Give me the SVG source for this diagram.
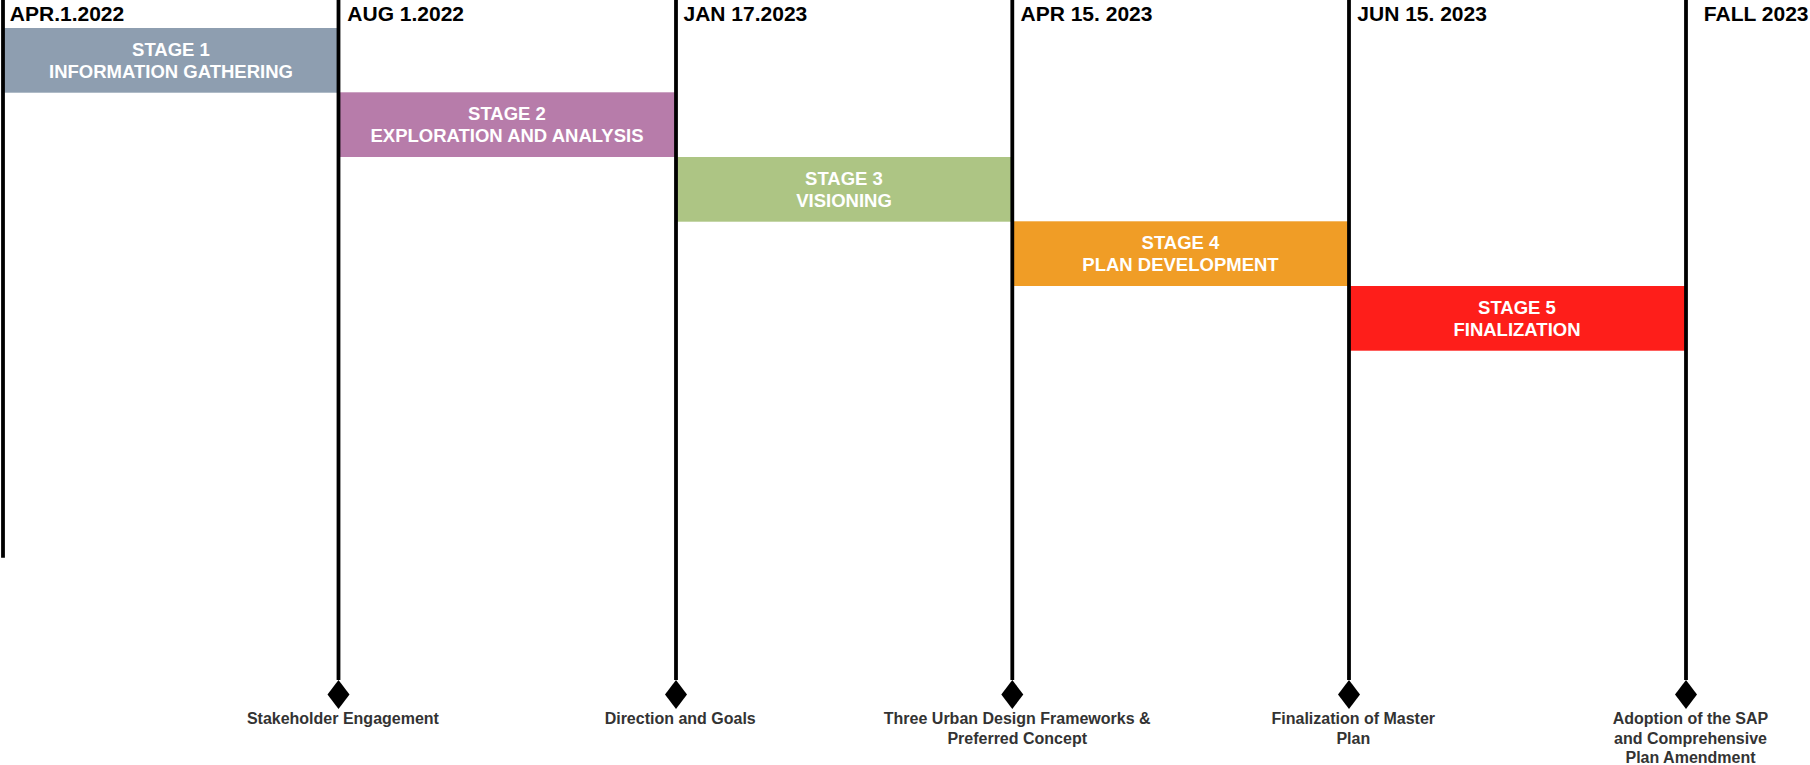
<svg xmlns="http://www.w3.org/2000/svg" width="1810" height="765" viewBox="0 0 1810 765">
<style>
.hdr{font-family:"Liberation Sans",Arial,sans-serif;font-weight:bold;font-size:21px;fill:#000}
.stg{font-family:"Liberation Sans",Arial,sans-serif;font-weight:bold;font-size:18.5px;fill:#fff;text-anchor:middle}
.lbl{font-family:"Liberation Sans",Arial,sans-serif;font-weight:bold;font-size:16px;fill:#333;text-anchor:middle}
.vl{stroke:#000;stroke-width:3.8;fill:none}
</style>
<defs>
<marker id="dia" markerUnits="userSpaceOnUse" markerWidth="24" markerHeight="32" viewBox="-12 -16 24 32" refX="0" refY="-14.5" orient="0">
<path d="M0,-14.5 L11,0 L0,14.5 L-11,0 Z" fill="#000"/>
</marker>
</defs>
<rect width="1810" height="765" fill="#fff"/>

<g id="stage1">
<rect x="3" y="28" width="335.5" height="64.7" fill="#8e9eb0"/>
<text class="stg" x="171" y="56">STAGE 1</text>
<text class="stg" x="171" y="77.7">INFORMATION GATHERING</text>
</g>
<g id="stage2">
<rect x="338.5" y="92.3" width="337.5" height="64.7" fill="#b77caa"/>
<text class="stg" x="507" y="120.3">STAGE 2</text>
<text class="stg" x="507" y="142">EXPLORATION AND ANALYSIS</text>
</g>
<g id="stage3">
<rect x="676" y="157" width="336.3" height="64.7" fill="#adc584"/>
<text class="stg" x="844" y="185">STAGE 3</text>
<text class="stg" x="844" y="206.7">VISIONING</text>
</g>
<g id="stage4">
<rect x="1012.3" y="221.3" width="336.7" height="64.7" fill="#f09d26"/>
<text class="stg" x="1180.5" y="249.3">STAGE 4</text>
<text class="stg" x="1180.5" y="271">PLAN DEVELOPMENT</text>
</g>
<g id="stage5">
<rect x="1349" y="286" width="337" height="64.7" fill="#fe1e1a"/>
<text class="stg" x="1517" y="314.3">STAGE 5</text>
<text class="stg" x="1517" y="336">FINALIZATION</text>
</g>

<g id="connectors">
<line class="vl" x1="3" y1="0" x2="3" y2="557.7"/>
<line class="vl" x1="338.5" y1="0" x2="338.5" y2="680" marker-end="url(#dia)"/>
<line class="vl" x1="676" y1="0" x2="676" y2="680" marker-end="url(#dia)"/>
<line class="vl" x1="1012.3" y1="0" x2="1012.3" y2="680" marker-end="url(#dia)"/>
<line class="vl" x1="1349" y1="0" x2="1349" y2="680" marker-end="url(#dia)"/>
<line class="vl" x1="1686" y1="0" x2="1686" y2="680" marker-end="url(#dia)"/>
</g>

<g id="dates">
<text class="hdr" x="9.8" y="21">APR.1.2022</text>
<text class="hdr" x="347.3" y="21">AUG 1.2022</text>
<text class="hdr" x="683.5" y="21">JAN 17.2023</text>
<text class="hdr" x="1020.5" y="21">APR 15. 2023</text>
<text class="hdr" x="1357.3" y="21">JUN 15. 2023</text>
<text class="hdr" x="1808.5" y="21" text-anchor="end">FALL 2023</text>
</g>

<g id="milestone1">
<text class="lbl" x="342.9" y="724">Stakeholder Engagement</text>
</g>
<g id="milestone2">
<text class="lbl" x="680.2" y="724">Direction and Goals</text>
</g>
<g id="milestone3">
<text class="lbl" x="1017.2" y="724">Three Urban Design Frameworks &amp;</text>
<text class="lbl" x="1017.2" y="744.3">Preferred Concept</text>
</g>
<g id="milestone4">
<text class="lbl" x="1353.3" y="724">Finalization of Master</text>
<text class="lbl" x="1353.3" y="744">Plan</text>
</g>
<g id="milestone5">
<text class="lbl" x="1690.5" y="724">Adoption of the SAP</text>
<text class="lbl" x="1690.5" y="744">and Comprehensive</text>
<text class="lbl" x="1690.5" y="763.3">Plan Amendment</text>
</g>
</svg>
